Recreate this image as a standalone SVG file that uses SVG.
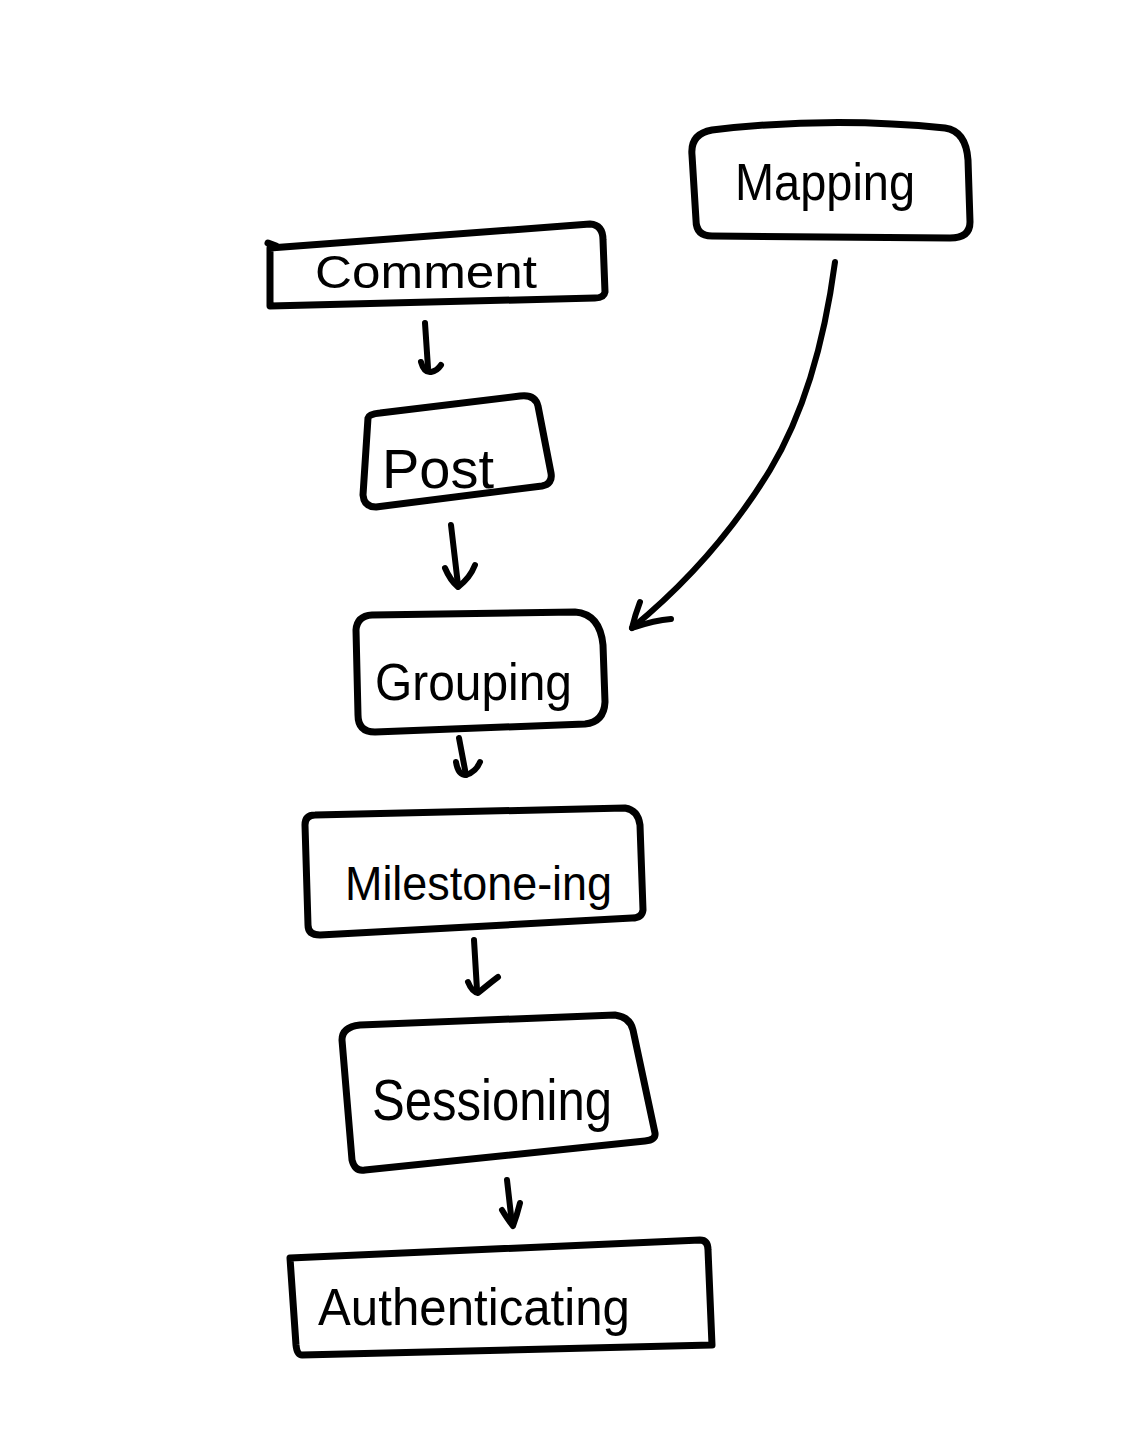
<svg xmlns="http://www.w3.org/2000/svg" width="1121" height="1456" viewBox="0 0 1121 1456">
<style>
.box{fill:none;stroke:#000;stroke-width:7;stroke-linejoin:round;stroke-linecap:round}
.edge{fill:none;stroke:#000;stroke-width:6;stroke-linecap:round;stroke-linejoin:round}
.lbl{font-family:"Liberation Sans","DejaVu Sans",sans-serif;fill:#000;text-anchor:start}
</style>
<rect width="1121" height="1456" fill="#fff"/>
<g id="connectors">
<path class="edge" d="M425,323 L428,368"/>
<path class="edge" d="M421,362 Q424,373 431,372 Q437,371 441,365"/>
<path class="edge" d="M451,525 L458,585"/>
<path class="edge" d="M445,568 Q450,580 458,587 Q470,578 475,565"/>
<path class="edge" d="M835,262 Q818,390 770,470 Q715,560 632,628"/>
<path class="edge" d="M640,602 Q635,615 632,628 Q655,620 671,619"/>
<path class="edge" d="M459,738 L466,775"/>
<path class="edge" d="M456,762 Q458,775 466,775 Q476,772 480,762"/>
<path class="edge" d="M474,940 L477,990"/>
<path class="edge" d="M468,982 Q472,992 478,993 Q490,983 498,977"/>
<path class="edge" d="M507,1180 L512,1224"/>
<path class="edge" d="M502,1210 Q508,1220 513,1226 Q517,1215 520,1203"/>
</g>
<g id="mapping">
<path class="box" d="M712,130 Q830,116 945,128 Q966,131 968,160 L970,222 Q970,238 950,238 L712,236 Q696,236 696,220 L692,155 Q690,134 712,130 Z"/>
<text class="lbl" x="735" y="200" font-size="52" textLength="180" lengthAdjust="spacingAndGlyphs">Mapping</text>
</g>
<g id="comment">
<path class="box" d="M270,248 L590,224 Q603,225 603,240 L605,292 Q604,298 595,298 L270,306 Z"/>
<path class="box" d="M268,243 L276,246"/>
<text class="lbl" x="315" y="288" font-size="46" textLength="222" lengthAdjust="spacingAndGlyphs">Comment</text>
</g>
<g id="post">
<path class="box" d="M368,418 L363,495 Q364,507 376,507 L542,486 Q553,484 551,473 L538,406 Q535,394 520,396 L380,413 Q369,414 368,418 Z"/>
<text class="lbl" x="382" y="488" font-size="56" textLength="112" lengthAdjust="spacingAndGlyphs">Post</text>
</g>
<g id="grouping">
<path class="box" d="M372,615 L575,612 Q600,614 603,645 L605,702 Q604,722 585,724 L375,732 Q358,732 358,715 L356,630 Q357,616 372,615 Z"/>
<text class="lbl" x="375" y="700" font-size="52" textLength="197" lengthAdjust="spacingAndGlyphs">Grouping</text>
</g>
<g id="milestoneing">
<path class="box" d="M315,815 L625,808 Q638,810 640,825 L643,910 Q642,918 632,918 L320,935 Q308,935 308,925 L305,825 Q305,815 315,815 Z"/>
<text class="lbl" x="345" y="900" font-size="48" textLength="267" lengthAdjust="spacingAndGlyphs">Milestone-ing</text>
</g>
<g id="sessioning">
<path class="box" d="M360,1025 L615,1015 Q630,1017 633,1030 L655,1133 Q656,1140 645,1141 L365,1170 Q355,1172 352,1160 L342,1040 Q342,1027 360,1025 Z"/>
<text class="lbl" x="372" y="1120" font-size="58" textLength="240" lengthAdjust="spacingAndGlyphs">Sessioning</text>
</g>
<g id="authenticating">
<path class="box" d="M290,1258 L700,1240 Q708,1240 708,1250 L712,1345 L302,1355 Q297,1355 296,1345 Z"/>
<text class="lbl" x="318" y="1325" font-size="52" textLength="312" lengthAdjust="spacingAndGlyphs">Authenticating</text>
</g>
</svg>
